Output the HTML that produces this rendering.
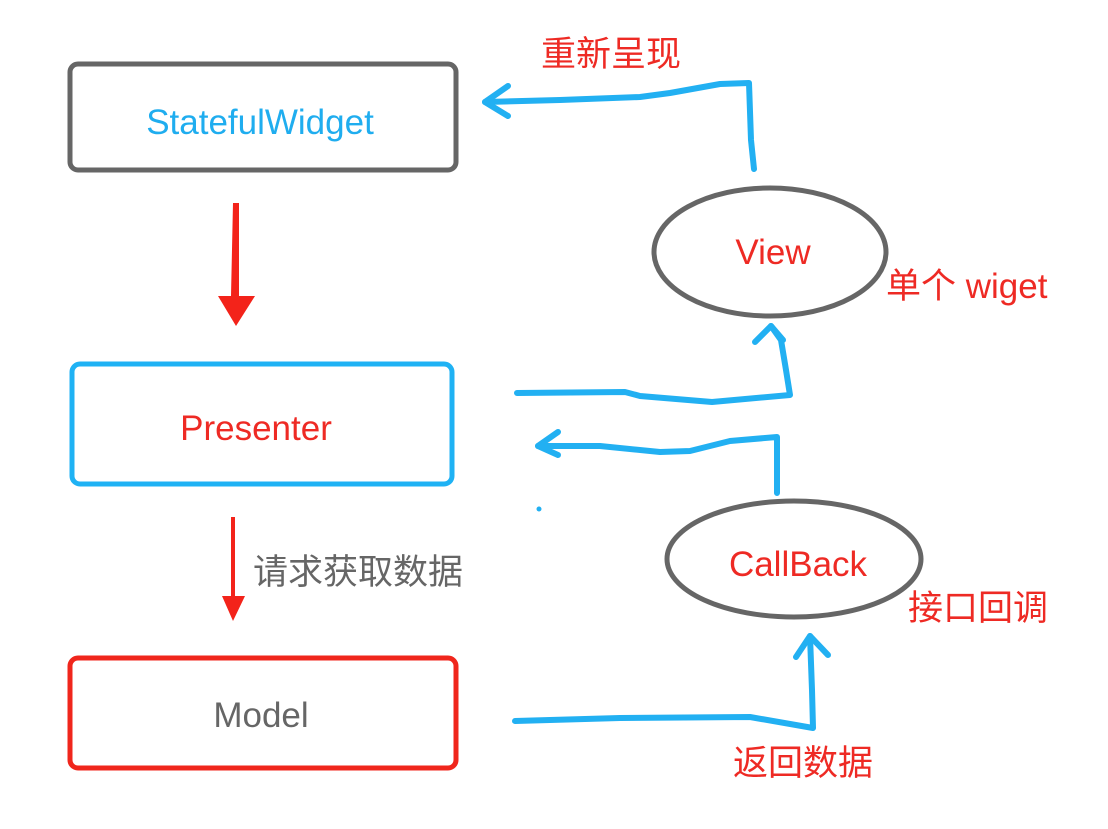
<!DOCTYPE html>
<html><head><meta charset="utf-8"><style>
body{margin:0;background:#fff;width:1108px;height:824px;overflow:hidden}
svg text{font-family:"Liberation Sans","Noto Sans CJK SC",sans-serif;font-size:35px}
svg text.c{font-size:35px}
</style></head><body>
<svg width="1108" height="824" viewBox="0 0 1108 824">
<rect x="70" y="64" width="386" height="106" rx="8" fill="none" stroke="#666" stroke-width="5"/>
<text x="260" y="134" text-anchor="middle" fill="#1fadef">StatefulWidget</text>
<rect x="72" y="364" width="380" height="120" rx="8" fill="none" stroke="#1fb2f4" stroke-width="5"/>
<text x="256" y="440" text-anchor="middle" fill="#ee2a24">Presenter</text>
<rect x="70" y="658" width="386" height="110" rx="8" fill="none" stroke="#f0261c" stroke-width="5"/>
<text x="261" y="727" text-anchor="middle" fill="#666">Model</text>
<path d="M233,203 L239,203 L239,296 L255,296 L236,326 L218,296 L231,296 Z" fill="#f3231a"/>
<path d="M231,517 L235,517 L235,596 L245,596 L233,621 L222,596 L231,596 Z" fill="#f3231a"/>
<text class="c" x="253" y="584" fill="#666">请求获取数据</text>
<ellipse cx="770" cy="252" rx="116" ry="64" fill="none" stroke="#666" stroke-width="5"/>
<text x="773" y="264" text-anchor="middle" fill="#ee2a24">View</text>
<ellipse cx="794" cy="559" rx="127" ry="58" fill="none" stroke="#666" stroke-width="5"/>
<text x="798" y="576" text-anchor="middle" fill="#ee2a24">CallBack</text>
<text class="c" x="541" y="66" fill="#ee2a24">重新呈现</text>
<text class="c" x="886" y="298" fill="#ee2a24">单个 wiget</text>
<text class="c" x="908" y="620" fill="#ee2a24">接口回调</text>
<text class="c" x="733" y="775" fill="#ee2a24">返回数据</text>
<g fill="none" stroke="#22b0f2" stroke-width="6" stroke-linecap="round" stroke-linejoin="round">
<path d="M754,169 L751,140 L749,83 L720,84 L670,93 L640,97 L560,100 L485,102"/>
<path d="M508,86 L485,102 L508,116"/>
<path d="M517,393 L625,392 L640,396 L712,402 L790,395 L786,370 L781,340 L771,326"/>
<path d="M755,342 L771,326 L783,340"/>
<path d="M777,493 L777,437 L730,441 L690,451 L660,452 L600,446 L538,446"/>
<path d="M558,432 L538,446 L558,455"/>
<path d="M515,721 L620,718 L750,717 L813,728 L812,690 L810,636"/>
<path d="M796,657 L810,636 L828,655"/>
</g>
<circle cx="539" cy="509" r="2.5" fill="#22b0f2"/>
</svg>
</body></html>
